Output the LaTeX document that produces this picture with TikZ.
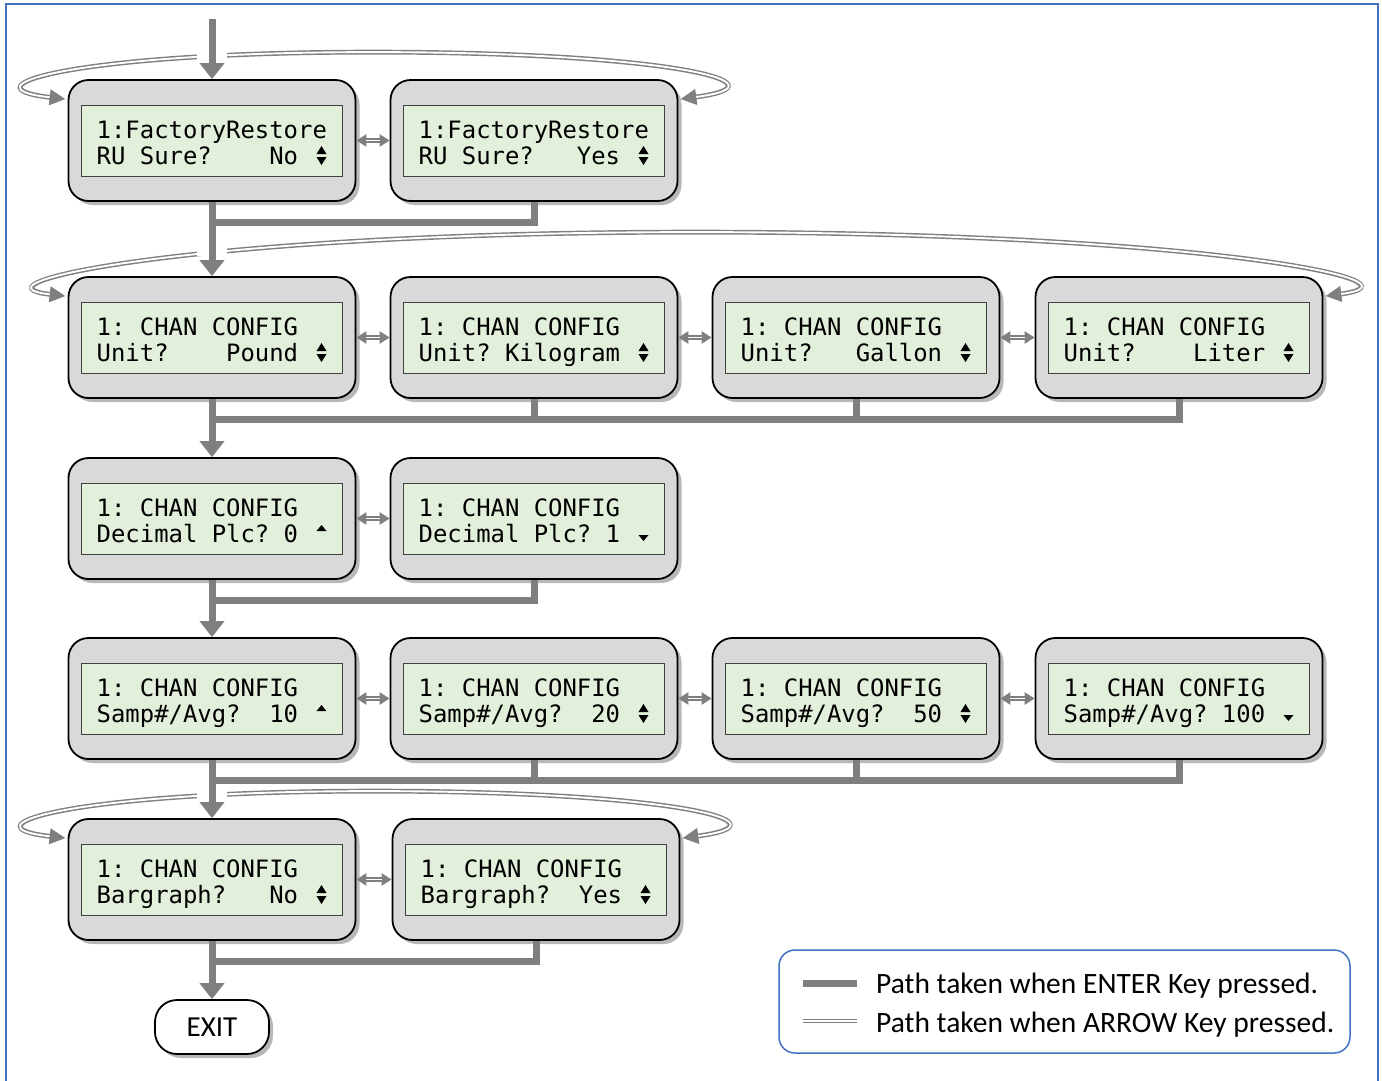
\documentclass[tikz,border=0pt]{standalone}
\usepackage{fontspec}
\setmainfont{Carlito}
\newfontfamily\lcdfont{DejaVu Sans Mono}
\usetikzlibrary{arrows.meta,calc,shadows}
\definecolor{arrgray}{HTML}{7F7F7F}
\definecolor{lcdgreen}{HTML}{E2EFDA}
\definecolor{lcdgray}{HTML}{D9D9D9}
\definecolor{frameblue}{HTML}{4472C4}
\tikzset{
  lcdouter/.style={rectangle, rounded corners=20pt, minimum width=287pt, minimum height=121pt,
    inner sep=0pt, fill=lcdgray, draw=black, line width=1.8pt,
    drop shadow={shadow xshift=4pt, shadow yshift=-4pt, opacity=0.28, fill=black}},
  lcdinner/.style={rectangle, minimum width=261pt, minimum height=71pt, inner sep=0pt,
    fill=lcdgreen, draw=black!75, line width=1pt},
  lcdtext/.style={anchor=base west, inner sep=0pt,
    font={\lcdfont\fontsize{23.9pt}{26pt}\selectfont\frenchspacing}},
  enter/.style={draw=arrgray, line width=7pt, line join=miter},
  enterarrow/.style={enter, arrows={-Triangle[length=16pt,width=24pt]}},
  akbase/.style={draw=arrgray, line width=4.8pt},
  akwhite/.style={postaction={draw=white, line width=1.9pt, arrows=-, shorten <=#1, shorten >=#1}},
  wraptips/.style={arrows={Triangle[length=16pt,width=15pt]-Triangle[length=16pt,width=15pt]}},
  sidetips/.style={arrows={Triangle[length=10pt,width=12pt]-Triangle[length=10pt,width=12pt]}},
  halo/.style={draw=white, line width=30pt},
  exitbox/.style={rectangle, rounded corners=22pt, minimum width=114pt, minimum height=54pt,
    inner sep=0pt, fill=white, draw=black, line width=1.8pt,
    drop shadow={shadow xshift=4pt, shadow yshift=-4pt, opacity=0.28, fill=black},
    font=\fontsize{29pt}{31pt}\selectfont},
  legendbox/.style={rectangle, rounded corners=16pt, minimum width=571pt, minimum height=103pt,
    inner sep=0pt, draw=frameblue, line width=1.5pt},
  legendtext/.style={anchor=base west, inner sep=0pt, font=\fontsize{29.5pt}{31pt}\selectfont},
}
% #1 name, #2 x, #3 y, #4 line 1, #5 line 2
\newcommand\lcdbox[5]{%
  \node[lcdouter] (#1) at (#2+143.5,#3+60.5) {};
  \node[lcdinner] (#1s) at (#1.center) {};
  \node[lcdtext] (#1a) at (#2+28,#3+58) {#4};
  \node[lcdtext] (#1b) at (#2+28,#3+84) {#5};
}
\newcommand\symud[2]{%
  \fill[black] (#1+248,#2+74) -- (#1+258,#2+74) -- (#1+253,#2+66) -- cycle;
  \fill[black] (#1+248,#2+77) -- (#1+258,#2+77) -- (#1+253,#2+85) -- cycle;
}
\newcommand\symup[2]{%
  \fill[black] (#1+248,#2+73) -- (#1+258,#2+73) -- (#1+253,#2+67) -- cycle;
}
\newcommand\symdn[2]{%
  \fill[black] (#1+248,#2+77) -- (#1+258,#2+77) -- (#1+253,#2+83) -- cycle;
}
\begin{document}
\begin{tikzpicture}[x=1pt,y=-1pt]
\useasboundingbox (0,0) rectangle (1382,1080);
\fill[white] (0,0) rectangle (1382,1080);
\draw[frameblue, line width=1.5pt] (6,1082) -- (6,4) -- (1378,4) -- (1378,1082);

% ---- LCD boxes
\lcdbox{b11}{68.5}{80}{1:FactoryRestore}{RU~Sure?~~~~No}
\lcdbox{b12}{390.5}{80}{1:FactoryRestore}{RU~Sure?~~~Yes}
\symud{68.5}{80}\symud{390.5}{80}

\lcdbox{b21}{68.5}{277}{1:~CHAN~CONFIG}{Unit?~~~~Pound}
\lcdbox{b22}{390.5}{277}{1:~CHAN~CONFIG}{Unit?~Kilogram}
\lcdbox{b23}{712.5}{277}{1:~CHAN~CONFIG}{Unit?~~~Gallon}
\lcdbox{b24}{1035.5}{277}{1:~CHAN~CONFIG}{Unit?~~~~Liter}
\symud{68.5}{277}\symud{390.5}{277}\symud{712.5}{277}\symud{1035.5}{277}

\lcdbox{b31}{68.5}{458}{1:~CHAN~CONFIG}{Decimal~Plc?~0}
\lcdbox{b32}{390.5}{458}{1:~CHAN~CONFIG}{Decimal~Plc?~1}
\symup{68.5}{458}\symdn{390.5}{458}

\lcdbox{b41}{68.5}{638}{1:~CHAN~CONFIG}{Samp\#/Avg?~~10}
\lcdbox{b42}{390.5}{638}{1:~CHAN~CONFIG}{Samp\#/Avg?~~20}
\lcdbox{b43}{712.5}{638}{1:~CHAN~CONFIG}{Samp\#/Avg?~~50}
\lcdbox{b44}{1035.5}{638}{1:~CHAN~CONFIG}{Samp\#/Avg?~100}
\symup{68.5}{638}\symud{390.5}{638}\symud{712.5}{638}\symdn{1035.5}{638}

\lcdbox{b51}{68.5}{819}{1:~CHAN~CONFIG}{Bargraph?~~~No}
\lcdbox{b52}{392.5}{819}{1:~CHAN~CONFIG}{Bargraph?~~Yes}
\symud{68.5}{819}\symud{392.5}{819}

\node[exitbox] (exit) at (212,1027) {EXIT};

% ---- ARROW key paths between neighbours
\draw[akbase, sidetips, akwhite=10pt] (b11.east) -- (b12.west);
\draw[akbase, sidetips, akwhite=10pt] (b21.east) -- (b22.west);
\draw[akbase, sidetips, akwhite=10pt] (b22.east) -- (b23.west);
\draw[akbase, sidetips, akwhite=10pt] (b23.east) -- (b24.west);
\draw[akbase, sidetips, akwhite=10pt] (b31.east) -- (b32.west);
\draw[akbase, sidetips, akwhite=10pt] (b41.east) -- (b42.west);
\draw[akbase, sidetips, akwhite=10pt] (b42.east) -- (b43.west);
\draw[akbase, sidetips, akwhite=10pt] (b43.east) -- (b44.west);
\draw[akbase, sidetips, akwhite=10pt] (b51.east) -- (b52.west);

% ---- wrap-around ARROW key paths
\coordinate (L1) at ($(b11.north west)+(-2,20)$);
\coordinate (R1) at ($(b12.north east)+(2,20)$);
\coordinate (M1) at ($(L1)!0.5!(R1)+(0,-47)$);
\draw[akbase, wraptips, akwhite=16pt] (L1) .. controls ($(L1)+(-106,-12)$) and ($(M1)+(-300,0)$) .. (M1)
  .. controls ($(M1)+(300,0)$) and ($(R1)+(112,-15)$) .. (R1);

\coordinate (L2) at ($(b21.north west)+(-2,20)$);
\coordinate (R2) at ($(b24.north east)+(2,20)$);
\coordinate (M2) at ($(L2)!0.5!(R2)+(0,-64)$);
\draw[akbase, wraptips, akwhite=16pt] (L2) .. controls ($(L2)+(-106,-12)$) and ($(M2)+(-500,0)$) .. (M2)
  .. controls ($(M2)+(500,0)$) and ($(R2)+(112,-15)$) .. (R2);

\coordinate (L5) at ($(b51.north west)+(-2,20)$);
\coordinate (R5) at ($(b52.north east)+(2,20)$);
\coordinate (M5) at ($(L5)!0.5!(R5)+(0,-47)$);
\draw[akbase, wraptips, akwhite=16pt] (L5) .. controls ($(L5)+(-106,-12)$) and ($(M5)+(-300,0)$) .. (M5)
  .. controls ($(M5)+(300,0)$) and ($(R5)+(112,-15)$) .. (R5);

% ---- gaps where the ENTER path crosses
\draw[halo] ($(b11.north)+(0,-32)$) -- ($(b11.north)+(0,-12)$);
\draw[halo] ($(b21.north)+(0,-40)$) -- ($(b21.north)+(0,-20)$);
\draw[halo] ($(b51.north)+(0,-32)$) -- ($(b51.north)+(0,-12)$);

% ---- ENTER key paths
\coordinate (start) at ($(b11.north)+(0,-60)$);
\draw[enterarrow] (start) -- (b11.north);

\coordinate (m1) at ($(b11.south)+(0,21)$);
\draw[enter] (b12.south) |- (m1);
\draw[enterarrow] (b11.south) -- (b21.north);

\coordinate (m2) at ($(b21.south)+(0,21)$);
\draw[enter] (b24.south) |- (m2);
\draw[enter] (b22.south) -- (b22.south |- m2);
\draw[enter] (b23.south) -- (b23.south |- m2);
\draw[enterarrow] (b21.south) -- (b31.north);

\coordinate (m3) at ($(b31.south)+(0,21)$);
\draw[enter] (b32.south) |- (m3);
\draw[enterarrow] (b31.south) -- (b41.north);

\coordinate (m4) at ($(b41.south)+(0,21)$);
\draw[enter] (b44.south) |- (m4);
\draw[enter] (b42.south) -- (b42.south |- m4);
\draw[enter] (b43.south) -- (b43.south |- m4);
\draw[enterarrow] (b41.south) -- (b51.north);

\coordinate (m5) at ($(b51.south)+(0,21)$);
\draw[enter] (b52.south) |- (m5);
\draw[enterarrow] (b51.south) -- (exit.north);

% ---- legend
\node[legendbox] (legend) at (1064.5,1001.5) {};
\coordinate (le1a) at (803,983);
\coordinate (le1b) at (857,983);
\coordinate (le2a) at (803,1021);
\coordinate (le2b) at (857,1021);
\draw[enter] (le1a) -- (le1b);
\draw[akbase, akwhite=0pt] (le2a) -- (le2b);
\node[legendtext] (lt1) at (876,993) {Path taken when ENTER Key pressed.};
\node[legendtext] (lt2) at (876,1032) {Path taken when ARROW Key pressed.};
\end{tikzpicture}
\end{document}
